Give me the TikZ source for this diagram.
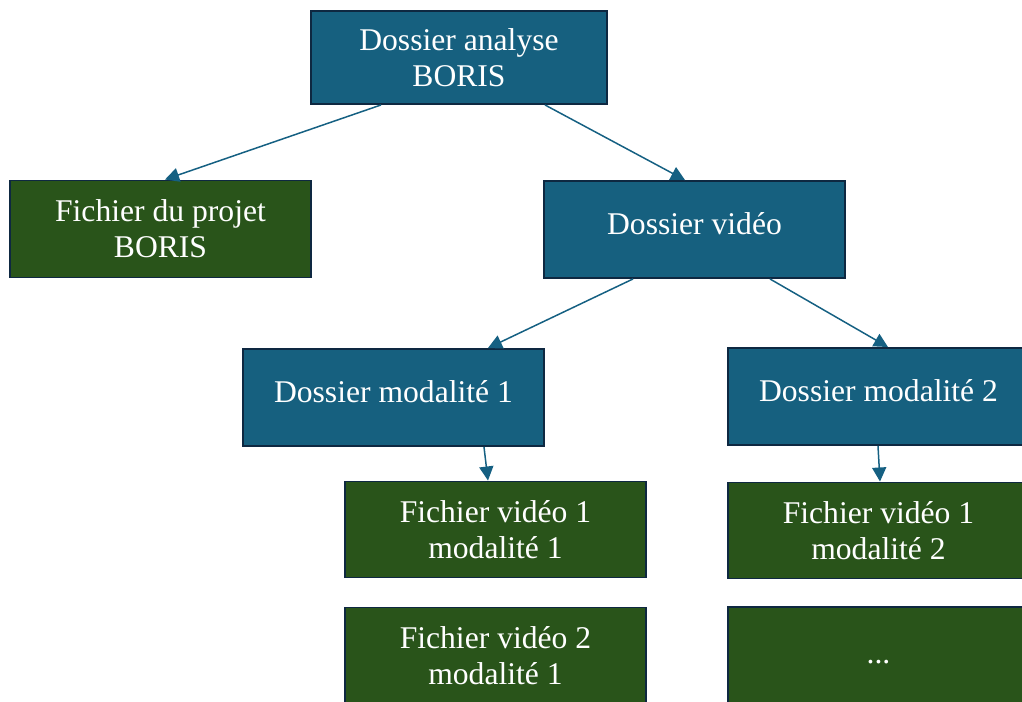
\documentclass[tikz,border=0pt]{standalone}
\usepackage{fontspec}
\setmainfont{Liberation Serif}
\usetikzlibrary{arrows.meta}
\definecolor{dossierblue}{RGB}{22,96,127}
\definecolor{fichiergreen}{RGB}{41,84,26}
\definecolor{bordernavy}{RGB}{14,40,65}
\definecolor{linkblue}{RGB}{21,96,130}
\begin{document}
\begin{tikzpicture}[x=0.02cm, y=-0.02cm,
    bluebox/.style={draw=bordernavy, line width=1.1pt, fill=dossierblue, text=white,
      minimum width=6.02cm, minimum height=1.94cm, align=center, inner sep=0pt,
      font=\fontsize{18}{20.5}\selectfont},
    greenbox/.style={bluebox, fill=fichiergreen},
    oneline/.style={text depth=7pt},
    link/.style={draw=linkblue, line width=0.85pt, -{Triangle[width=8pt,length=8pt]}}]
    \useasboundingbox (0, 0) rectangle (1022, 702);
    \node[bluebox, minimum width=5.92cm, minimum height=1.86cm] (top) at (459, 57.5) {Dossier analyse\\BORIS};
    \node[greenbox] (proj) at (160.5, 229) {Fichier du projet\\BORIS};
    \node[bluebox, oneline] (video) at (694.5, 229.5) {Dossier vidéo};
    \node[bluebox, oneline] (mod1) at (393.5, 397.5) {Dossier modalité 1};
    \node[bluebox, oneline] (mod2) at (878.5, 396.5) {Dossier modalité 2};
    \node[greenbox, minimum height=1.92cm] (f11) at (495.5, 529.5) {Fichier vidéo 1\\modalité 1};
    \node[greenbox, minimum height=1.92cm] (f12) at (878.5, 530.5) {Fichier vidéo 1\\modalité 2};
    \node[greenbox, minimum height=1.92cm] (f21) at (495.5, 655.5) {Fichier vidéo 2\\modalité 1};
    \node[greenbox, minimum height=1.92cm, text height=9.5pt, text depth=0pt] (dots) at (878.5, 655) {...};
    \draw[link] ([xshift=-1.56cm]top.south) -- ([xshift=0.09cm]proj.north);
    \draw[link] ([xshift=1.72cm]top.south) -- ([xshift=-0.19cm]video.north);
    \draw[link] ([xshift=-1.23cm]video.south) -- ([xshift=1.89cm]mod1.north);
    \draw[link] ([xshift=1.51cm]video.south) -- ([xshift=0.19cm]mod2.north);
    \draw[link] ([xshift=1.81cm]mod1.south) -- ([xshift=-0.15cm]f11.north);
    \draw[link] ([xshift=-0.01cm]mod2.south) -- ([xshift=0.03cm]f12.north);
  \end{tikzpicture}
\end{document}
